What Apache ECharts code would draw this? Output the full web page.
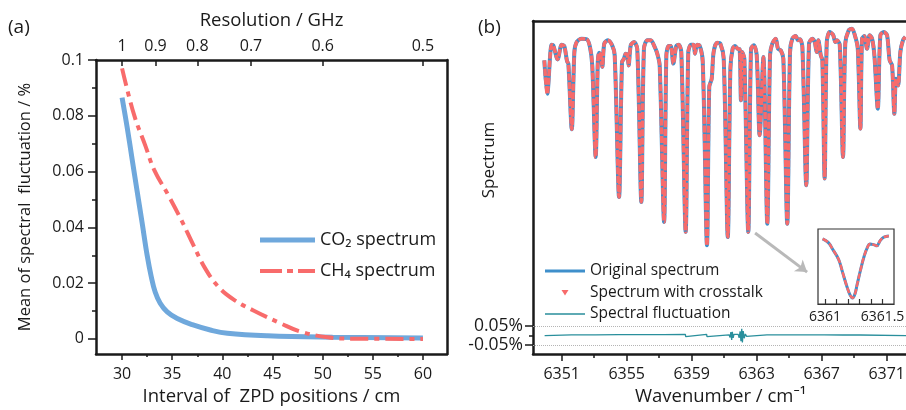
<!DOCTYPE html>
<html>
<head>
<meta charset="utf-8">
<script src="https://cdn.jsdelivr.net/npm/echarts@6/dist/echarts.min.js"></script>
<style>
  html, body { margin: 0; padding: 0; background: #fff; }
  #chart { width: 906px; height: 410px; }
</style>
</head>
<body>
<div id="chart"></div>
<script>
// (a) mean spectral fluctuation vs ZPD interval
const co2Interval = [30, 30.5, 31, 31.5, 32, 32.5, 32.9, 33.3, 33.8, 34.5, 35.5, 37, 38.8, 40.5, 44.5, 51, 60];
const co2Fluct = [0.0865, 0.076, 0.0645, 0.053, 0.0416, 0.0300, 0.0225, 0.0168, 0.0128, 0.0097, 0.0073, 0.0051, 0.0032, 0.0020, 0.0011, 0.0006, 0.0003];
const ch4Interval = [30, 31.2, 32.3, 33.2, 34.6, 35.9, 37.1, 38.3, 39.6, 41.1, 43.1, 45.8, 47.8, 50.5, 53, 60];
const ch4Fluct = [0.097, 0.0803, 0.0695, 0.0606, 0.0516, 0.0427, 0.0337, 0.0252, 0.0187, 0.0142, 0.0102, 0.0056, 0.0026, 0.0006, 0.0001, 0];
const zpdTicks = [30, 35, 40, 45, 50, 55, 60];
const zpdMinorTicks = [32.5, 37.5, 42.5, 47.5, 52.5, 57.5];
const fluctTicks = [0, 0.02, 0.04, 0.06, 0.08, 0.1];
const fluctMinorTicks = [0.01, 0.03, 0.05, 0.07, 0.09];
const resolutionTicks = [1, 0.9, 0.8, 0.7, 0.6, 0.5];

// (b) spectrum, crosstalk and fluctuation
const wavenumber = [
  6349.93, 6350.11, 6350.38, 6350.48, 6350.75, 6351.00, 6351.16, 6351.33, 6351.41, 6351.62,
  6351.78, 6351.92, 6352.23, 6352.54, 6352.74, 6352.88, 6353.09, 6353.22, 6353.30, 6353.40,
  6353.50, 6353.62, 6353.83, 6354.10, 6354.26, 6354.53, 6354.71, 6354.83, 6354.94, 6355.04,
  6355.12, 6355.25, 6355.45, 6355.65, 6355.90, 6356.06, 6356.27, 6356.48, 6356.72, 6356.88,
  6357.03, 6357.30, 6357.44, 6357.58, 6357.71, 6357.87, 6358.05, 6358.20, 6358.36, 6358.63,
  6358.79, 6358.96, 6359.12, 6359.20, 6359.33, 6359.47, 6359.68, 6359.94, 6360.08, 6360.23,
  6360.35, 6360.56, 6360.76, 6360.97, 6361.22, 6361.38, 6361.52, 6361.66, 6361.83, 6361.95,
  6362.03, 6362.11, 6362.24, 6362.48, 6362.65, 6362.82, 6363.00, 6363.18, 6363.41, 6363.65,
  6363.82, 6363.96, 6364.17, 6364.31, 6364.48, 6364.64, 6364.88, 6365.05, 6365.19, 6365.40,
  6365.54, 6365.66, 6365.81, 6366.05, 6366.22, 6366.42, 6366.57, 6366.69, 6366.79, 6366.94,
  6367.04, 6367.18, 6367.31, 6367.49, 6367.70, 6367.84, 6367.94, 6368.11, 6368.31, 6368.45,
  6368.66, 6368.86, 6369.07, 6369.22, 6369.38, 6369.48, 6369.62, 6369.79, 6369.95, 6370.10,
  6370.24, 6370.45, 6370.61, 6370.82, 6371.02, 6371.18, 6371.33, 6371.47, 6371.57, 6371.70,
  6371.84, 6372.00, 6372.15
];
const originalSpec = [
  0.923, 0.772, 0.993, 0.991, 0.927, 0.993, 0.987, 0.918, 0.908, 0.612,
  0.960, 1.005, 1.020, 1.018, 0.983, 0.900, 0.487, 0.915, 0.957, 0.946,
  0.893, 0.998, 1.013, 0.991, 0.946, 0.307, 0.915, 0.930, 0.953, 0.948,
  0.900, 0.991, 1.005, 0.975, 0.285, 0.975, 1.013, 1.013, 0.983, 0.953,
  0.900, 0.195, 0.946, 0.987, 0.987, 0.908, 0.987, 0.993, 0.960, 0.150,
  0.960, 0.993, 0.993, 0.953, 0.993, 0.991, 0.915, 0.090, 0.803, 0.840,
  0.960, 1.002, 0.998, 0.930, 0.127, 0.885, 0.975, 0.987, 0.975, 0.973,
  0.743, 0.960, 0.930, 0.150, 0.975, 0.991, 0.946, 0.585, 0.938, 0.187,
  0.946, 0.998, 1.020, 0.975, 0.968, 0.930, 0.187, 0.960, 1.020, 1.032,
  1.013, 1.018, 0.983, 0.360, 0.998, 1.020, 1.005, 0.960, 1.013, 0.946,
  0.923, 0.390, 1.005, 1.050, 1.038, 1.005, 1.013, 0.993, 0.487, 0.998,
  1.058, 1.065, 1.028, 0.975, 0.615, 1.020, 1.032, 0.975, 1.036, 1.020,
  0.946, 0.705, 1.036, 1.050, 1.036, 0.923, 0.900, 0.682, 0.840, 0.810,
  0.960, 1.013, 1.028
];
// crosstalk cannot be told apart from the original at this scale
const crosstalkSpec = originalSpec;

const fluctWn = [
  6349.95, 6351.60, 6351.62, 6351.64, 6353.07, 6353.09, 6353.11, 6354.51, 6354.53, 6354.55,
  6355.88, 6355.90, 6355.92, 6357.28, 6357.30, 6357.32, 6358.61, 6358.63, 6358.65, 6359.92,
  6359.94, 6359.96, 6361.30, 6361.36, 6361.41, 6361.46, 6361.50, 6361.55, 6361.60, 6361.66,
  6361.86, 6361.92, 6361.98, 6362.03, 6362.08, 6362.12, 6362.17, 6362.23, 6362.30, 6362.38,
  6362.45, 6363.63, 6363.65, 6363.67, 6364.86, 6364.88, 6364.90, 6366.03, 6366.05, 6366.07,
  6367.16, 6367.18, 6367.20, 6368.29, 6368.31, 6368.33, 6369.36, 6369.38, 6369.40, 6372.30
];
const fluctVal = [
  0, 0.004, -0.004, 0, 0.004, -0.004, 0, 0.005, -0.005, 0,
  0.005, -0.005, 0, 0.005, -0.005, 0, 0.006, -0.006, 0, 0.006,
  -0.006, 0, 0.004, -0.010, 0.018, -0.023, 0.020, -0.012, 0.006, 0,
  0.006, -0.012, 0.022, -0.030, 0.036, -0.036, 0.024, -0.014, 0.008, -0.004,
  0, 0.004, -0.004, 0, 0.004, -0.004, 0, 0.004, -0.004, 0,
  0.004, -0.004, 0, 0.003, -0.003, 0, 0.003, -0.003, 0, 0
];
const specTicks = [6351, 6355, 6359, 6363, 6367, 6371];
const specMinorTicks = [6353, 6357, 6361, 6365, 6369];
const fluctAxisTicks = [-0.05, 0.05];

// inset: zoom on the 6361.2 line
const insetWn = [6360.98, 6361.03, 6361.07, 6361.12, 6361.155, 6361.19, 6361.22, 6361.24, 6361.26, 6361.28,
  6361.31, 6361.34, 6361.37, 6361.39, 6361.43, 6361.45, 6361.48, 6361.51, 6361.555];
const insetVal = [0.971, 0.918, 0.814, 0.670, 0.480, 0.288, 0.155, 0.117, 0.170, 0.313,
  0.527, 0.718, 0.852, 0.899, 0.885, 0.871, 0.947, 0.995, 1.014];
const insetTicks = [6361, 6361.1, 6361.2, 6361.3, 6361.4, 6361.5];
const insetLabels = [6361, 6361.5];

const zip = (xs, ys) => xs.map((x, i) => [x, ys[i]]);
const font = '"Open Sans", "Noto Sans", "DejaVu Sans", sans-serif';
const ink = '#1a1a1a';
const blueA = '#6fa8dc';
const redA = '#f86b6b';
const blueB = '#3f8fcb';
const redB = '#f76b6b';
const teal = '#2a8f9c';

const axisText = { fontSize: 16, color: ink, fontFamily: font };
const nameText = { fontSize: 18.5, color: ink, fontFamily: font };
const frame = { onZero: false, lineStyle: { color: ink, width: 2.5 } };
const tickStyle = { color: ink, width: 1.5 };
const plain = (v) => String(v);
const resolutionPos = resolutionTicks.map((r) => 30 / r);

// legend icons: two invisible corner specks fix the box, the rest is what shows
const box = (w, h) => `M0,0L0.01,0L0,0.01Z M${w},${h}L${w - 0.01},${h}L${w},${h - 0.01}Z`;
const bar = (x0, x1, y0, y1) => `M${x0},${y0}L${x1},${y0}L${x1},${y1}L${x0},${y1}Z`;
const co2Icon = `path://${box(55, 16)} ${bar(0, 55, 5.5, 10.5)}`;
const ch4Icon = `path://${box(55, 16)} ${bar(0, 22, 6, 10)} ${bar(27, 33, 6, 10)} ${bar(38, 55, 6, 10)}`;
const originalIcon = `path://${box(40, 14)} ${bar(0, 40, 5.5, 8.5)}`;
const fluctIcon = `path://${box(40, 14)} ${bar(0, 40, 6.35, 7.65)}`;
const triangleIcon = `path://${box(40, 14)} M16.5,4.5L23.5,4.5L20,10Z`;

const chart = echarts.init(document.getElementById('chart'));

chart.setOption({
  animation: false,
  textStyle: { fontFamily: font },
  title: [
    { text: '(a)', left: 8, top: 18, padding: 0, textStyle: { fontSize: 19, fontWeight: 'normal', color: ink, fontFamily: font } },
    { text: '(b)', left: 478, top: 18, padding: 0, textStyle: { fontSize: 19, fontWeight: 'normal', color: ink, fontFamily: font } }
  ],
  grid: [
    { left: 96, top: 60, width: 351, height: 294, outerBoundsMode: 'none' },
    { left: 533, top: 21, width: 375, height: 333, outerBoundsMode: 'none' },
    { left: 818, top: 229, width: 76, height: 75, show: true, borderColor: '#333', borderWidth: 1.2, backgroundColor: '#fff', outerBoundsMode: 'none' }
  ],
  legend: [
    {
      data: [{ name: 'CO₂ spectrum', icon: co2Icon }, { name: 'CH₄ spectrum', icon: ch4Icon }],
      orient: 'vertical', left: 255, top: 226, itemWidth: 55, itemHeight: 16, itemGap: 13,
      selectedMode: false,
      itemStyle: { borderWidth: 0 },
      textStyle: { fontSize: 18, color: ink, fontFamily: font }
    },
    {
      data: [
        { name: 'Original spectrum', icon: originalIcon },
        { name: 'Spectrum with crosstalk', icon: triangleIcon },
        { name: 'Spectral fluctuation', icon: fluctIcon }
      ],
      orient: 'vertical', left: 540, top: 258, itemWidth: 40, itemHeight: 14, itemGap: 5.5,
      selectedMode: false,
      itemStyle: { borderWidth: 0 },
      textStyle: { fontSize: 15.5, color: ink, fontFamily: font }
    }
  ],
  graphic: [
    {
      type: 'text', x: 489, y: 160, rotation: Math.PI / 2,
      style: { text: 'Spectrum', align: 'center', verticalAlign: 'middle', font: `17px ${font}`, fill: ink }
    }
  ],
  xAxis: [
    {
      gridIndex: 0, type: 'value', position: 'bottom', min: 27.4, max: 62.4,
      axisLine: frame,
      axisTick: { customValues: zpdTicks, length: 6, lineStyle: tickStyle },
      axisLabel: { customValues: zpdTicks, margin: 12, formatter: plain, ...axisText },
      splitLine: { show: false },
      name: 'Interval of  ZPD positions / cm', nameLocation: 'middle', nameGap: 32, nameTextStyle: nameText
    },
    {
      gridIndex: 0, type: 'value', position: 'bottom', min: 27.4, max: 62.4,
      axisLine: { show: false, onZero: false },
      axisTick: { customValues: zpdMinorTicks, length: 3, lineStyle: tickStyle },
      axisLabel: { show: false },
      splitLine: { show: false }
    },
    {
      gridIndex: 0, type: 'value', position: 'top', min: 27.4, max: 62.4,
      axisLine: frame,
      axisTick: { customValues: resolutionPos, inside: true, length: 6, lineStyle: tickStyle },
      axisLabel: {
        customValues: resolutionPos, margin: 6, ...axisText,
        formatter: (v) => String(resolutionTicks[resolutionPos.findIndex((p) => Math.abs(p - v) < 1e-6)])
      },
      splitLine: { show: false },
      name: 'Resolution / GHz', nameLocation: 'middle', nameGap: 30, nameTextStyle: nameText
    },
    {
      gridIndex: 1, type: 'value', position: 'bottom', min: 6349.234, max: 6372.31,
      axisLine: frame,
      axisTick: { customValues: specTicks, length: 7, lineStyle: tickStyle },
      axisLabel: { customValues: specTicks, margin: 12, formatter: plain, ...axisText },
      splitLine: { show: false },
      name: 'Wavenumber / cm⁻¹', nameLocation: 'middle', nameGap: 31, nameTextStyle: nameText
    },
    {
      gridIndex: 1, type: 'value', position: 'bottom', min: 6349.234, max: 6372.31,
      axisLine: { show: false, onZero: false },
      axisTick: { customValues: specMinorTicks, length: 4, lineStyle: tickStyle },
      axisLabel: { show: false },
      splitLine: { show: false }
    },
    {
      gridIndex: 1, type: 'value', position: 'top', min: 6349.234, max: 6372.31,
      axisLine: frame, axisTick: { show: false }, axisLabel: { show: false }, splitLine: { show: false }
    },
    {
      gridIndex: 2, type: 'value', position: 'bottom', min: 6360.94, max: 6361.6,
      axisLine: { onZero: false, lineStyle: { color: '#333', width: 1.2 } },
      axisTick: { customValues: insetTicks, inside: true, length: 5, lineStyle: { color: '#333', width: 1.2 } },
      axisLabel: { customValues: insetLabels, margin: 6, formatter: plain, fontSize: 14, color: ink, fontFamily: font },
      splitLine: { show: false }
    }
  ],
  yAxis: [
    {
      gridIndex: 0, type: 'value', position: 'left', min: -0.0054, max: 0.1,
      axisLine: frame,
      axisTick: { customValues: fluctTicks, length: 8, lineStyle: tickStyle },
      axisLabel: { customValues: fluctTicks, margin: 12, formatter: plain, ...axisText },
      splitLine: { show: false },
      name: 'Mean of spectral  fluctuation / %', nameLocation: 'middle', nameGap: 62,
      nameTextStyle: { fontSize: 16.5, color: ink, fontFamily: font }
    },
    {
      gridIndex: 0, type: 'value', position: 'left', min: -0.0054, max: 0.1,
      axisLine: { show: false, onZero: false },
      axisTick: { customValues: fluctMinorTicks, length: 4, lineStyle: tickStyle },
      axisLabel: { show: false },
      splitLine: { show: false }
    },
    {
      gridIndex: 0, type: 'value', position: 'right', min: -0.0054, max: 0.1,
      axisLine: frame, axisTick: { show: false }, axisLabel: { show: false }, splitLine: { show: false }
    },
    {
      gridIndex: 1, type: 'value', position: 'left', min: -0.097, max: 1.655,
      axisLine: frame,
      axisTick: { customValues: fluctAxisTicks, length: 8, lineStyle: tickStyle },
      axisLabel: { customValues: fluctAxisTicks, margin: 10, ...axisText, fontSize: 17.5, formatter: (v) => `${v}%` },
      splitLine: { show: false }
    },
    {
      gridIndex: 1, type: 'value', position: 'left', min: -0.097, max: 1.655,
      axisLine: { show: false, onZero: false },
      axisTick: { customValues: [0], length: 4, lineStyle: tickStyle },
      axisLabel: { show: false },
      splitLine: { show: false }
    },
    { gridIndex: 1, type: 'value', position: 'left', min: -0.4, max: 1.1, show: false },
    { gridIndex: 2, type: 'value', position: 'left', min: 0.03, max: 1.115, show: false }
  ],
  series: [
    {
      name: 'CO₂ spectrum', type: 'line', xAxisIndex: 0, yAxisIndex: 0,
      data: zip(co2Interval, co2Fluct), smooth: 0.4, symbol: 'none',
      itemStyle: { color: blueA }, lineStyle: { color: blueA, width: 5 }, z: 3
    },
    {
      name: 'CH₄ spectrum', type: 'line', xAxisIndex: 0, yAxisIndex: 0,
      data: zip(ch4Interval, ch4Fluct), smooth: 0.4, symbol: 'none',
      itemStyle: { color: redA }, lineStyle: { color: redA, width: 4, type: [18, 6, 5, 6] }, z: 4
    },
    {
      name: 'Original spectrum', type: 'line', xAxisIndex: 3, yAxisIndex: 5,
      data: zip(wavenumber, originalSpec), smooth: 0.3, symbol: 'none',
      itemStyle: { color: blueB }, lineStyle: { color: blueB, width: 4 }, z: 3,
      markLine: {
        silent: true, animation: false, symbol: ['none', 'arrow'], symbolSize: 11,
        label: { show: false }, emphasis: { disabled: true },
        lineStyle: { color: '#b9b9b9', width: 3, type: 'solid' },
        data: [[{ coord: [6362.9, 0.145] }, { coord: [6366.1, -0.031] }]]
      }
    },
    {
      name: 'Spectrum with crosstalk', type: 'line', xAxisIndex: 3, yAxisIndex: 5,
      data: zip(wavenumber, crosstalkSpec), smooth: 0.3, symbol: 'none',
      itemStyle: { color: redB }, lineStyle: { color: redB, width: 3.5, type: [7, 1.6] }, z: 4
    },
    {
      name: 'Spectral fluctuation', type: 'line', xAxisIndex: 3, yAxisIndex: 3,
      data: zip(fluctWn, fluctVal), symbol: 'none',
      itemStyle: { color: teal }, lineStyle: { color: teal, width: 1.3 }, z: 3,
      markLine: {
        silent: true, animation: false, symbol: 'none',
        label: { show: false }, emphasis: { disabled: true },
        lineStyle: { color: '#b5b5b5', width: 1, type: 'dotted' },
        data: fluctAxisTicks.map((v) => ({ yAxis: v }))
      }
    },
    {
      name: 'inset original', type: 'line', xAxisIndex: 6, yAxisIndex: 6,
      data: zip(insetWn, insetVal), smooth: 0.4, symbol: 'none',
      itemStyle: { color: blueB }, lineStyle: { color: blueB, width: 3 }, z: 5
    },
    {
      name: 'inset crosstalk', type: 'line', xAxisIndex: 6, yAxisIndex: 6,
      data: zip(insetWn, insetVal), smooth: 0.4, symbol: 'none',
      itemStyle: { color: redB }, lineStyle: { color: redB, width: 2.5, type: [6, 2] }, z: 6
    }
  ]
});
</script>
</body>
</html>
